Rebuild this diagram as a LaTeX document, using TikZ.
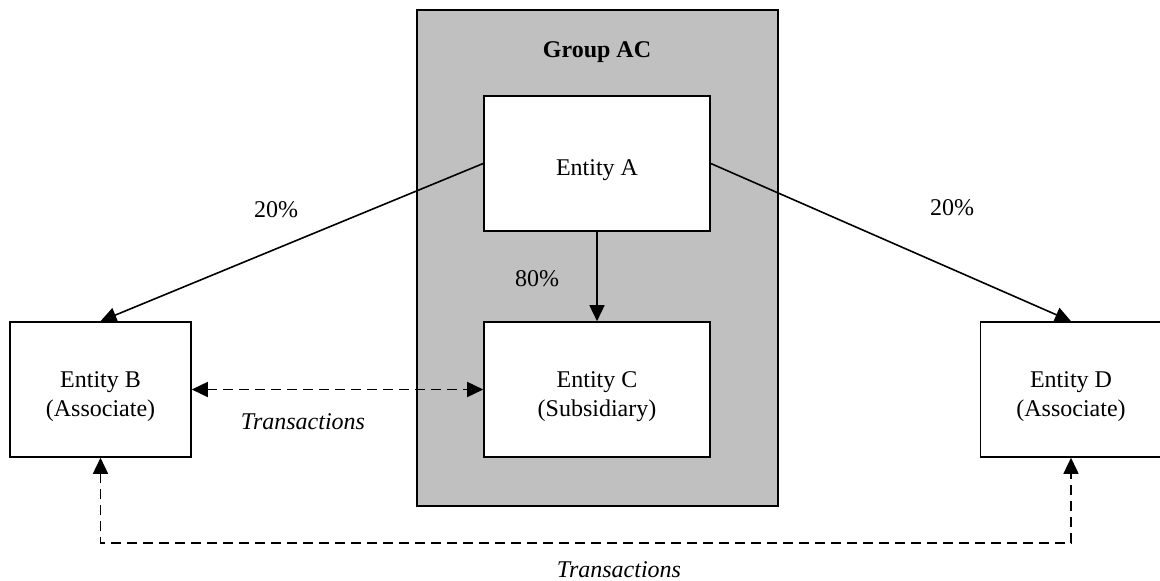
\documentclass[tikz,border=0pt]{standalone}
\usepackage{fontspec}
\setmainfont{Liberation Serif}
\usetikzlibrary{arrows.meta}
\definecolor{groupgrey}{RGB}{192,192,192}
\newcommand{\toppad}{\rule{0pt}{15pt}}

\begin{document}
\begin{tikzpicture}[x=0.5pt,y=-0.5pt,font=\fontsize{12}{14.5}\selectfont]

\tikzset{
    entity/.style={draw, fill=white, line width=0.8pt, align=center, inner sep=0pt, minimum height=67.5pt},
    link/.style={line width=0.8pt, -{Triangle[length=8pt,width=7.5pt]}},
    trade/.style={link, {Triangle[length=8pt,width=7.5pt]}-{Triangle[length=8pt,width=7.5pt]}, dash pattern=on 5pt off 3pt}
}
\useasboundingbox (0,0) rectangle (1160,581);

\node[draw, fill=groupgrey, line width=0.8pt, minimum width=180.5pt, minimum height=248pt] (group) at (597.5,258) {};
\node[font=\fontsize{12}{14.5}\selectfont\bfseries] (grouplabel) at (597,52) {Group AC};

\node[entity, minimum width=113pt] (entA) at (597,163.5) {\toppad Entity A};
\node[entity, minimum width=113pt] (entC) at (597,389.5) {\toppad Entity C\\(Subsidiary)};
\node[entity, minimum width=90.5pt] (entB) at (100.5,389.5) {\toppad Entity B\\(Associate)};
\node[entity, minimum width=90.5pt] (entD) at (1071,389.5) {\toppad Entity D\\(Associate)};

\draw[link] (entA.west) -- (entB.north);
\draw[link] (entA.east) -- (entD.north);
\draw[link] (entA.south) -- (entC.north);
\draw[trade] (entB.east) -- (entC.west);
\coordinate (bottomline) at (0,543);
\draw[trade] (entB.south) -- (entB.south |- bottomline) -| (entD.south);

\path (276,210) node (shareB) {20\%};
\path (952,208) node (shareD) {20\%};
\path (537,279) node (shareC) {80\%};
\path (303,422) node[font=\fontsize{12}{14.5}\selectfont\itshape] (tradeBC) {Transactions};
\path (619,570) node[font=\fontsize{12}{14.5}\selectfont\itshape] (tradeBD) {Transactions};
\end{tikzpicture}
\end{document}
